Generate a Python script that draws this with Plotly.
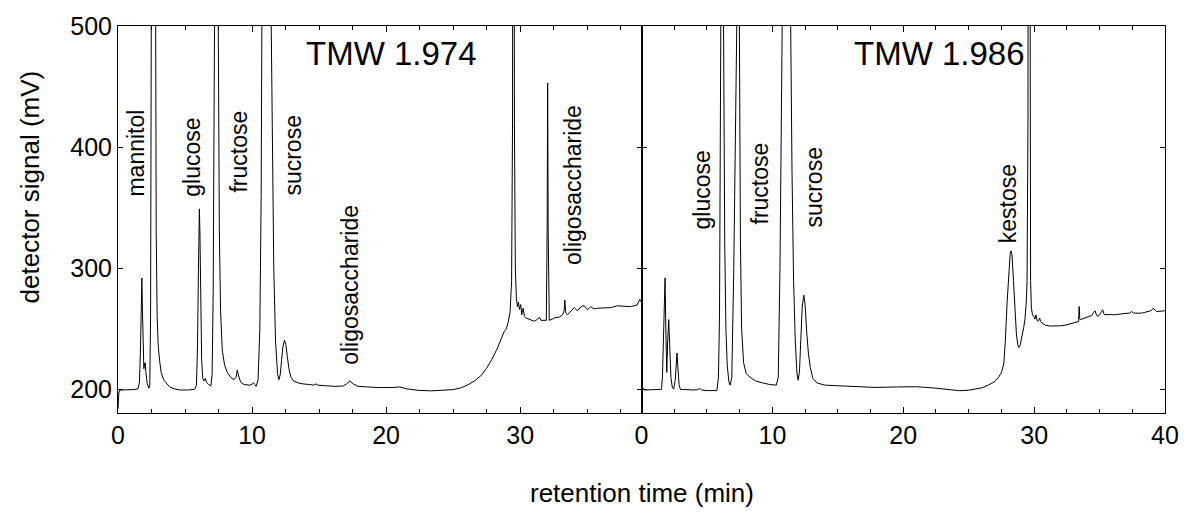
import plotly.graph_objects as go

# ---------------- data ----------------
left_time = [
    0.00, 0.06, 0.15, 0.6, 1.2, 1.5, 1.6, 1.68, 1.74, 1.78,
    1.83, 1.88, 1.93, 1.98, 2.03, 2.08, 2.18, 2.3, 2.37, 2.43,
    2.48, 2.55, 2.63, 2.72, 2.78, 2.85, 2.92, 3.0, 3.1, 3.22,
    3.4, 3.6, 3.85, 4.2, 4.6, 5.2, 5.7, 5.85, 5.93, 5.99,
    6.04, 6.07, 6.11, 6.17, 6.24, 6.32, 6.42, 6.51, 6.6, 6.75,
    6.93, 7.02, 7.1, 7.2, 7.33, 7.48, 7.56, 7.65, 7.78, 7.95,
    8.15, 8.4, 8.65, 8.8, 8.9, 9.0, 9.15, 9.4, 9.8, 10.0,
    10.1, 10.2, 10.3, 10.45, 10.58, 10.68, 10.76, 11.1, 11.43, 11.52,
    11.62, 11.75, 11.9, 12.0, 12.1, 12.2, 12.3, 12.42, 12.52, 12.62,
    12.75, 12.9, 13.1, 13.4, 13.8, 14.3, 14.6, 14.75, 14.9, 15.5,
    16.2, 16.8, 17.05, 17.3, 17.55, 17.9, 18.5, 19.4, 20.5, 21.0,
    21.5, 22.4, 23.4, 24.2, 25.0, 25.6, 26.1, 26.6, 27.1, 27.5,
    27.9, 28.3, 28.6, 28.8, 28.95, 29.1, 29.25, 29.36, 29.43, 29.5,
    29.57, 29.64, 29.72, 29.8, 29.87, 29.95, 30.04, 30.12, 30.22, 30.32,
    30.44, 30.69, 30.9, 31.06, 31.3, 31.43, 31.55, 31.75, 31.95, 32.01,
    32.05, 32.09, 32.17, 32.4, 32.55, 32.75, 32.92, 33.16, 33.28, 33.33,
    33.4, 33.53, 33.78, 34.03, 34.28, 34.52, 34.77, 35.02, 35.26, 35.5,
    35.76, 36.2, 36.75, 37.25, 37.7, 38.23, 38.73, 38.85, 38.92, 39.05,
]
left_signal = [
    184, 197, 199.5, 199.5, 199.8, 200.5, 206, 235, 275, 292,
    262, 228, 217, 221, 222, 214, 205, 201, 203, 260,
    500, 900, 1200, 900, 500, 330, 260, 236, 224, 214,
    208, 205, 202, 200.5, 199.5, 199.5, 200, 203, 235, 290,
    335, 349, 330, 270, 225, 209, 207, 209, 206, 204,
    203, 212, 280, 500, 1300, 500, 330, 265, 232, 220,
    214, 210, 208, 210, 216, 211, 206, 204, 203.5, 204,
    205.5, 204, 202.5, 208, 250, 360, 500, 1500, 500, 390,
    300, 240, 213, 208, 212, 224, 235, 240.5, 237, 228,
    217, 210, 207, 205.5, 204.5, 204, 203.5, 204.5, 203.5, 203,
    202.5, 202.8, 204.5, 207, 204.5, 202.5, 202, 201.5, 201.5, 202,
    200.5, 199.2, 198.8, 199, 199.8, 201.3, 203.8, 207, 211.6, 217.5,
    225, 234, 243, 247.5, 249.5, 255, 264, 290, 420, 1200,
    420, 300, 275, 268, 272, 266, 270, 261.6, 267, 260.3,
    259, 257.6, 256.8, 256.2, 258, 259.5, 257, 256.8, 257, 330,
    453, 330, 257, 258, 259, 259.5, 259.6, 261.6, 265, 273.8,
    263, 261.6, 264.3, 267.5, 264.9, 268.1, 269.2, 265.7, 268.3, 266.5,
    267, 267.3, 267.5, 269, 268.5, 268.3, 269.7, 272, 274.3, 272,
]

right_time = [
    0.0, 0.1, 0.25, 1.0, 1.52, 1.6, 1.68, 1.75, 1.8, 1.86,
    1.93, 2.0, 2.08, 2.15, 2.25, 2.35, 2.46, 2.58, 2.65, 2.71,
    2.77, 2.87, 2.97, 3.5, 4.0, 4.3, 4.45, 4.6, 5.0, 5.76,
    5.88, 5.96, 6.06, 6.16, 6.27, 6.36, 6.45, 6.55, 6.68, 6.77,
    6.9, 7.05, 7.2, 7.28, 7.38, 7.48, 7.56, 7.65, 7.8, 8.0,
    8.3, 8.7, 9.2, 9.8, 10.3, 10.45, 10.58, 10.75, 11.08, 11.4,
    11.5, 11.62, 11.75, 11.88, 11.97, 12.07, 12.17, 12.28, 12.4, 12.5,
    12.62, 12.75, 12.9, 13.1, 13.4, 14.0, 15.0, 16.5, 17.9, 19.5,
    21.0, 22.5, 23.5, 24.3, 25.0, 25.5, 26.0, 26.5, 27.0, 27.3,
    27.5, 27.68, 27.8, 27.94, 28.07, 28.17, 28.24, 28.31, 28.42, 28.52,
    28.65, 28.75, 28.82, 28.92, 29.05, 29.2, 29.3, 29.4, 29.46, 29.53,
    29.6, 29.67, 29.73, 29.79, 29.87, 29.97, 30.06, 30.14, 30.22, 30.3,
    30.36, 30.42, 30.5, 30.6, 30.85, 31.2, 31.61, 32.0, 32.37, 32.8,
    33.13, 33.4, 33.44, 33.49, 33.55, 33.8, 34.14, 34.4, 34.55, 34.65,
    34.78, 34.9, 35.05, 35.24, 35.35, 35.41, 35.8, 36.17, 36.8, 37.3,
    37.44, 37.6, 38.2, 38.7, 38.95, 39.09, 39.2, 39.35, 39.7, 40.0,
]
right_signal = [
    199, 201, 199.5, 199.5, 200, 210, 245, 280, 292, 250,
    214, 240, 257.6, 238, 210, 202, 200.2, 208, 222, 230,
    220, 204, 200, 199.5, 199.5, 199.8, 200.8, 199.5, 199, 199,
    210, 260, 500, 1300, 500, 320, 250, 220, 206, 203.5,
    210, 300, 430, 500, 1300, 500, 320, 250, 222, 213,
    210, 207, 205.5, 204, 203.5, 210, 300, 500, 1500, 500,
    380, 290, 240, 213, 207.5, 215, 240, 268, 277.8, 270,
    248, 230, 218, 209, 205.4, 203.5, 203, 202.4, 201.6, 202,
    202.2, 201, 199.5, 198.9, 199.3, 200, 201.3, 203.5, 206.5, 210.3,
    214, 221, 240, 272.4, 300, 312, 314.4, 311, 290, 268,
    245, 237, 234.6, 236, 242, 250.8, 258, 272, 289, 420,
    1200, 420, 290, 267, 262, 260.3, 258, 261.6, 257, 256.2,
    257, 258.9, 256, 254.8, 253, 252.3, 252.1, 252.5, 253, 254,
    254.8, 256, 268.4, 258, 257.6, 258.5, 260.3, 261, 263.5, 264.9,
    261, 260.3, 262.5, 265.7, 262, 261.6, 261.8, 261.6, 262.5, 263,
    264.3, 263, 262.9, 264, 265, 267, 265.5, 264.3, 264.6, 264.9,
]

left_peak_labels = ["mannitol", "glucose", "fructose", "sucrose", "oligosaccharide", "oligosaccharide"]
left_label_time = [1.37, 5.51, 9.04, 13.08, 17.35, 33.98]
left_label_signal = [395, 392, 396.5, 393.3, 286, 368.4]

right_peak_labels = ["glucose", "fructose", "sucrose", "kestose"]
right_label_time = [4.62, 9.03, 13.17, 28.06]
right_label_signal = [365, 369.7, 367.3, 353.5]

panel_titles = ["TMW 1.974", "TMW 1.986"]
panel_title_time = [20.43, 22.75]
panel_title_signal = [477, 477]

x_ticks = [0, 10, 20, 30, 40]
y_ticks = [200, 300, 400, 500]

FONT = "Liberation Sans, Arial, Helvetica, sans-serif"

fig = go.Figure()
fig.add_trace(go.Scatter(x=left_time, y=left_signal, mode="lines",
                         line=dict(color="black", width=1), xaxis="x", yaxis="y",
                         showlegend=False, hoverinfo="skip"))
fig.add_trace(go.Scatter(x=right_time, y=right_signal, mode="lines",
                         line=dict(color="black", width=1), xaxis="x2", yaxis="y2",
                         showlegend=False, hoverinfo="skip"))

annotations = []
for txt, t, v in zip(left_peak_labels, left_label_time, left_label_signal):
    annotations.append(dict(text=txt, x=t, y=v, xref="x", yref="y", textangle=-90,
                            showarrow=False, xanchor="center", yanchor="middle",
                            font=dict(size=23, color="black", family=FONT)))
for txt, t, v in zip(right_peak_labels, right_label_time, right_label_signal):
    annotations.append(dict(text=txt, x=t, y=v, xref="x2", yref="y2", textangle=-90,
                            showarrow=False, xanchor="center", yanchor="middle",
                            font=dict(size=23, color="black", family=FONT)))
for txt, t, v, xr, yr in zip(panel_titles, panel_title_time, panel_title_signal,
                             ["x", "x2"], ["y", "y2"]):
    annotations.append(dict(text=txt, x=t, y=v, xref=xr, yref=yr, showarrow=False,
                            xanchor="center", yanchor="middle",
                            font=dict(size=33, color="black", family=FONT)))
# axis titles
annotations.append(dict(text="detector signal (mV)", x=-0.084, y=0.583, xref="paper", yref="paper",
                        textangle=-90, showarrow=False, xanchor="center", yanchor="middle",
                        font=dict(size=26, color="black", family=FONT)))
annotations.append(dict(text="retention time (min)", x=0.5, y=-0.208, xref="paper", yref="paper",
                        showarrow=False, xanchor="center", yanchor="middle",
                        font=dict(size=26, color="black", family=FONT)))

common_x = dict(showgrid=False, zeroline=False, showline=True, linecolor="black", linewidth=1,
                mirror="ticks", ticks="inside", ticklen=6, tickcolor="black", tickwidth=1,
                tickvals=x_ticks, ticktext=[str(v) for v in x_ticks],
                tickfont=dict(size=25, color="black", family=FONT),
                minor=dict(dtick=2.5, tick0=0, ticks="inside", ticklen=4, tickcolor="black",
                           showgrid=False))
common_y = dict(showgrid=False, zeroline=False, showline=True, linecolor="black", linewidth=1,
                mirror="ticks", ticks="inside", ticklen=5, tickcolor="black", tickwidth=1,
                tickvals=y_ticks, range=[180.5, 500],
                tickfont=dict(size=25, color="black", family=FONT))

fig.update_layout(
    width=1191, height=513, autosize=False,
    margin=dict(l=118, r=21, t=20, b=100, pad=0),
    paper_bgcolor="white", plot_bgcolor="white",
    xaxis=dict(domain=[0, 0.5], range=[0, 39.05], anchor="y", **common_x),
    xaxis2=dict(domain=[0.5, 1], range=[0, 40], anchor="y2", **common_x),
    yaxis=dict(anchor="x", showticklabels=True, **common_y),
    yaxis2=dict(anchor="x2", showticklabels=False, **common_y),
    annotations=annotations,
    showlegend=False,
)

fig.write_html("out.html", config={"displayModeBar": False})
